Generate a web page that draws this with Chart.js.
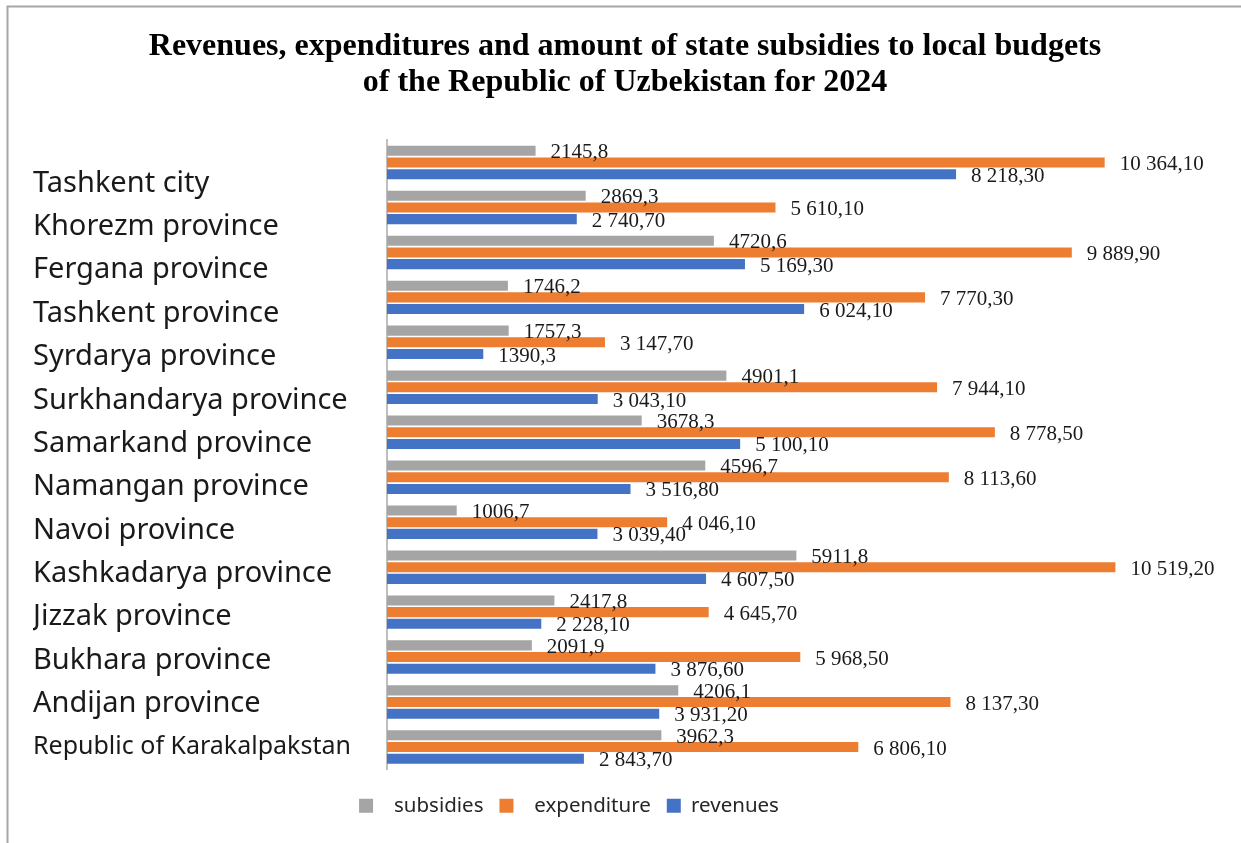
<!DOCTYPE html>
<html>
<head>
<meta charset="utf-8">
<title>Local budgets of Uzbekistan 2024</title>
<script src="https://cdn.jsdelivr.net/npm/chart.js@4.4.1/dist/chart.umd.min.js"></script>
<style>
  html, body { margin: 0; padding: 0; background: #fff; }
  #wrap { width: 1241px; height: 843px; position: relative; }
</style>
</head>
<body>
<div id="wrap"><canvas id="budgetChart" width="1241" height="843"></canvas></div>
<script>
// regions, top to bottom as in the figure
const regions = [
  'Tashkent city', 'Khorezm province', 'Fergana province', 'Tashkent province',
  'Syrdarya province', 'Surkhandarya province', 'Samarkand province', 'Namangan province',
  'Navoi province', 'Kashkadarya province', 'Jizzak province', 'Bukhara province',
  'Andijan province', 'Republic of Karakalpakstan'
];

// billion soums
const subsidies = [2145.8, 2869.3, 4720.6, 1746.2, 1757.3, 4901.1, 3678.3, 4596.7, 1006.7, 5911.8, 2417.8, 2091.9, 4206.1, 3962.3];
const expenditure = [10364.1, 5610.1, 9889.9, 7770.3, 3147.7, 7944.1, 8778.5, 8113.6, 4046.1, 10519.2, 4645.7, 5968.5, 8137.3, 6806.1];
const revenues = [8218.3, 2740.7, 5169.3, 6024.1, 1390.3, 3043.1, 5100.1, 3516.8, 3039.4, 4607.5, 2228.1, 3876.6, 3931.2, 2843.7];

// revenue labels printed in the short form in the source
const shortRevenue = [4];

const seriesNames = ['subsidies', 'expenditure', 'revenues'];
const colors = ['#A5A5A5', '#ED7D31', '#4472C4'];

const titleLines = [
  'Revenues, expenditures and amount of state subsidies to local budgets',
  'of the Republic of Uzbekistan for 2024'
];

function fmtShort(v) {
  return v.toFixed(1).replace('.', ',');
}
function fmtLong(v) {
  const parts = v.toFixed(2).split('.');
  const intPart = parts[0].replace(/\B(?=(\d{3})+(?!\d))/g, ' ');
  return intPart + ',' + parts[1];
}
function labelFor(dsIndex, i, v) {
  if (dsIndex === 0) return fmtShort(v);
  if (dsIndex === 2 && shortRevenue.includes(i)) return fmtShort(v);
  return fmtLong(v);
}

// white page, grey frame on top and left, and the two-line title
const framePlugin = {
  id: 'frame',
  beforeDraw(chart) {
    const c = chart.ctx;
    c.save();
    c.fillStyle = '#fff';
    c.fillRect(0, 0, chart.width, chart.height);
    c.strokeStyle = '#a6a6a6';
    c.lineWidth = 2;
    c.beginPath();
    c.moveTo(7.5, chart.height);
    c.lineTo(7.5, 6.5);
    c.lineTo(chart.width, 6.5);
    c.stroke();

    c.fillStyle = '#000';
    c.font = 'bold 32px "Liberation Serif", "Times New Roman", serif';
    c.textAlign = 'center';
    c.textBaseline = 'middle';
    titleLines.forEach((line, i) => c.fillText(line, 625, 47 + i * 36));
    c.restore();
  }
};

const valueLabels = {
  id: 'valueLabels',
  afterDatasetsDraw(chart) {
    const c = chart.ctx;
    c.save();
    c.font = '21px "Liberation Serif", "Times New Roman", serif';
    c.fillStyle = '#1a1a1a';
    c.textAlign = 'left';
    c.textBaseline = 'middle';
    chart.data.datasets.forEach((ds, d) => {
      const meta = chart.getDatasetMeta(d);
      meta.data.forEach((bar, i) => {
        c.fillText(labelFor(d, i, ds.data[i]), bar.x + 15, bar.y + 2);
      });
    });
    c.restore();
  }
};

const ctx = document.getElementById('budgetChart').getContext('2d');

new Chart(ctx, {
  type: 'bar',
  data: {
    labels: regions,
    datasets: [
      { label: seriesNames[0], data: subsidies, backgroundColor: colors[0] },
      { label: seriesNames[1], data: expenditure, backgroundColor: colors[1] },
      { label: seriesNames[2], data: revenues, backgroundColor: colors[2] }
    ]
  },
  options: {
    indexAxis: 'y',
    responsive: false,
    animation: false,
    devicePixelRatio: 1,
    datasets: {
      bar: { barPercentage: 0.86, categoryPercentage: 0.78 }
    },
    layout: {
      padding: { left: 33, right: 120, top: 140, bottom: 17 }
    },
    scales: {
      x: {
        min: 0,
        max: 10600,
        ticks: { display: false },
        grid: { display: false },
        border: { display: false },
        afterFit(scale) { scale.height = 10; }
      },
      // bar axis: only its grey line is shown
      y: {
        weight: 0,
        ticks: { display: false },
        grid: { display: true, drawOnChartArea: false, drawTicks: false },
        border: { display: true, color: '#bfbfbf', width: 2 },
        afterFit(scale) { scale.width = 0; }
      },
      // region names sit in their own column, spaced a little tighter than the bars
      names: {
        type: 'linear',
        axis: 'y',
        position: 'left',
        weight: 1,
        reverse: true,
        offset: false,
        min: -1.0,
        max: 13.51,
        ticks: {
          stepSize: 1,
          includeBounds: false,
          maxTicksLimit: 30,
          autoSkip: false,
          crossAlign: 'far',
          color: '#1a1a1a',
          callback: (v) => Number.isInteger(v) && regions[v] ? regions[v] : '',
          font: (c) => c.tick && c.tick.value === 13
            ? { family: '"Noto Sans", sans-serif', size: 25 }
            : { family: '"Noto Sans", sans-serif', size: 29 }
        },
        grid: { display: false, offset: false },
        border: { display: false },
        afterFit(scale) { scale.width = 354; }
      }
    },
    plugins: {
      title: { display: false },
      legend: {
        position: 'bottom',
        labels: {
          boxWidth: 14,
          boxHeight: 14,
          padding: 16,
          color: '#262626',
          font: { family: '"Noto Sans", sans-serif', size: 20.5 },
          generateLabels(chart) {
            const items = Chart.defaults.plugins.legend.labels.generateLabels(chart);
            items.forEach((it, i) => {
              it.lineWidth = 0;
              if (i < 2) it.text = '  ' + it.text;
              else it.text = it.text + '   ';
            });
            return items;
          }
        }
      },
      tooltip: { enabled: false }
    }
  },
  plugins: [framePlugin, valueLabels]
});
</script>
</body>
</html>
